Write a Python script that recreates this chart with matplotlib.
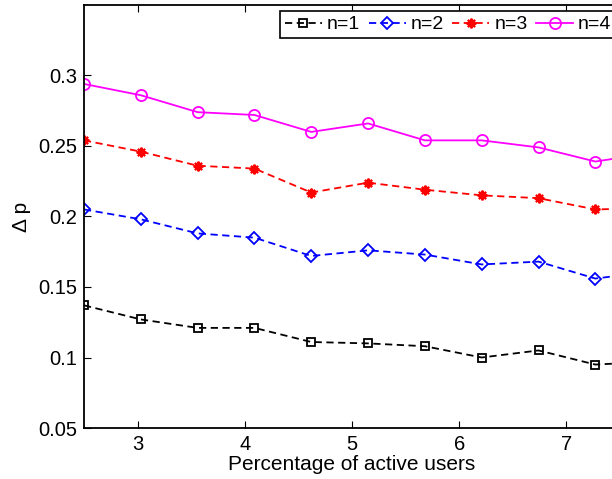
import matplotlib
matplotlib.use("Agg")
import matplotlib.pyplot as plt

plt.rcParams['font.family'] = ['Liberation Sans', 'DejaVu Sans']

# ---------- data ----------
active_pct = [2.5, 3.03, 3.56, 4.09, 4.62, 5.15, 5.68, 6.21, 6.74, 7.27, 7.8]
dp_n1 = [0.137, 0.127, 0.121, 0.121, 0.111, 0.110, 0.108, 0.100, 0.105, 0.095, 0.097]
dp_n2 = [0.205, 0.198, 0.188, 0.185, 0.172, 0.176, 0.173, 0.166, 0.168, 0.156, 0.161]
dp_n3 = [0.254, 0.246, 0.236, 0.234, 0.217, 0.224, 0.219, 0.215, 0.213, 0.205, 0.206]
dp_n4 = [0.294, 0.286, 0.274, 0.272, 0.260, 0.266, 0.254, 0.254, 0.249, 0.239, 0.245]
labels = ["n=1", "n=2", "n=3", "n=4"]
x_ticks = [3, 4, 5, 6, 7]
y_ticks = [0.05, 0.1, 0.15, 0.2, 0.25, 0.3]

fig = plt.figure(figsize=(6.12, 4.79), dpi=100)
# axes runs a little past the right edge, as in the (cropped) reference
ax = fig.add_axes([84 / 612, 51 / 479, 536 / 612, 423 / 479])

dash = (4, 2.5)
ax.plot(active_pct, dp_n1, color='black', lw=1.3, dashes=dash,
        marker='s', ms=5.5, mfc='none', mec='black', mew=1.3, label=labels[0])
ax.plot(active_pct, dp_n2, color='blue', lw=1.3, dashes=dash,
        marker='D', ms=6, mfc='none', mec='blue', mew=1.3, label=labels[1])
ax.plot(active_pct, dp_n3, color='red', lw=1.3, dashes=dash,
        marker=(8, 2, 0), ms=7, mfc='red', mec='red', mew=1.5, label=labels[2])
ax.plot(active_pct, dp_n4, color='magenta', lw=1.3, ls='-',
        marker='o', ms=8, mfc='none', mec='magenta', mew=1.3, label=labels[3])

ax.set_xlim(2.5, 7.5)
ax.set_ylim(0.05, 0.35)
ax.set_xticks(x_ticks)
ax.set_yticks(y_ticks)
ax.set_yticklabels(["0.05", "0.1", "0.15", "0.2", "0.25", "0.3"])
ax.tick_params(direction='in', length=5, width=0.8, top=True, right=True,
               labelsize=14.5, pad=5)
for s in ax.spines.values():
    s.set_linewidth(1.3)

ax.set_xlabel("Percentage of active users", fontsize=15, labelpad=1)
ax.set_ylabel("Δ p", fontsize=15, labelpad=5)

leg = fig.legend(loc='upper left', bbox_to_anchor=(280 / 612, 1 - 11 / 479),
                 ncol=4, fontsize=14, handlelength=1.9, handletextpad=0.25,
                 columnspacing=0.45, borderpad=0.25, borderaxespad=0,
                 fancybox=False, framealpha=1, edgecolor='black')
leg.get_frame().set_linewidth(1.2)

plt.savefig("out.png", dpi=100)
